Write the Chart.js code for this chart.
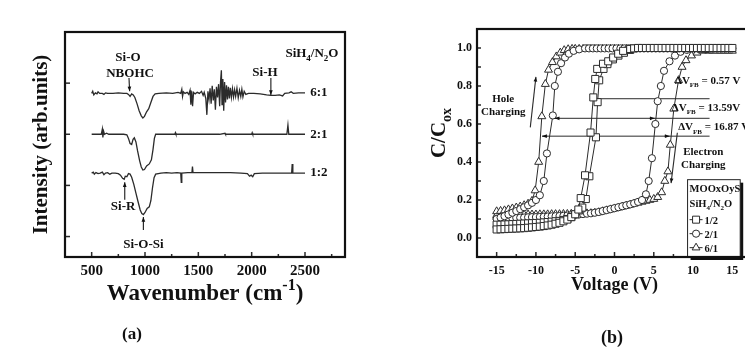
<!DOCTYPE html>
<html>
<head>
<meta charset="utf-8">
<script src="https://cdn.jsdelivr.net/npm/chart.js@4.4.1/dist/chart.umd.min.js"></script>
<style>
  body { margin: 0; background: #fff; width: 745px; height: 352px; overflow: hidden; position: relative; }
  #painel-a { position: absolute; left: 0; top: 0; }
  #painel-b { position: absolute; left: 378px; top: 0; }
</style>
</head>
<body>
<canvas id="painel-a" width="375" height="352"></canvas>
<canvas id="painel-b" width="380" height="352"></canvas>
<script>
// Painel (a): espectros FTIR, pares [número de onda, intensidade]
const espectro61 = [[500,3.80],[510,3.84],[520,3.77],[535,3.81],[550,3.79],[560,3.83],[575,3.80],[600,3.80],[615,3.78],[630,3.81],[650,3.80],[700,3.80],[750,3.81],[800,3.80],[830,3.80],[845,3.78],[860,3.74],[875,3.79],[890,3.77],[905,3.72],[925,3.60],[945,3.46],[965,3.36],[980,3.32],[995,3.35],[1015,3.44],[1035,3.50],[1055,3.62],[1075,3.74],[1095,3.79],[1130,3.80],[1200,3.81],[1260,3.80],[1310,3.82],[1335,3.80],[1345,3.88],[1352,3.74],[1360,3.83],[1375,3.80],[1395,3.82],[1410,3.78],[1422,3.86],[1430,3.58],[1438,3.84],[1446,3.55],[1455,3.82],[1470,3.79],[1490,3.82],[1510,3.80],[1530,3.84],[1545,3.76],[1555,3.82],[1570,3.70],[1580,3.38],[1590,3.84],[1600,3.68],[1610,3.90],[1620,3.60],[1630,3.95],[1640,3.66],[1650,3.88],[1660,3.48],[1670,3.93],[1680,3.72],[1690,3.98],[1700,3.55],[1708,4.02],[1716,4.25],[1722,3.58],[1730,4.08],[1738,3.46],[1746,4.02],[1755,3.62],[1764,3.96],[1773,3.68],[1782,3.93],[1791,3.70],[1800,3.91],[1810,3.72],[1820,3.89],[1830,3.73],[1840,3.87],[1850,3.74],[1862,3.90],[1874,3.71],[1886,3.86],[1898,3.74],[1908,3.88],[1918,3.73],[1930,3.84],[1945,3.78],[1970,3.80],[2020,3.80],[2080,3.79],[2140,3.77],[2180,3.76],[2220,3.76],[2260,3.77],[2290,3.75],[2310,3.80],[2350,3.81],[2370,3.83],[2390,3.80],[2440,3.81],[2500,3.81]];
const espectro21 = [[500,3.00],[560,3.00],[590,3.00],[600,3.10],[605,2.94],[612,3.06],[620,3.00],[640,3.02],[660,3.00],[700,3.00],[760,3.00],[800,3.00],[830,2.99],[845,2.92],[860,2.82],[875,2.80],[888,2.90],[900,2.93],[915,2.85],[930,2.68],[950,2.48],[965,2.36],[980,2.30],[995,2.31],[1015,2.38],[1040,2.42],[1060,2.50],[1075,2.70],[1088,2.92],[1100,3.00],[1200,3.00],[1280,3.00],[1285,3.03],[1290,3.00],[1500,3.00],[1700,3.00],[1750,3.02],[1755,3.00],[2000,3.00],[2005,3.03],[2010,3.00],[2330,3.00],[2340,3.18],[2348,3.00],[2500,3.00]];
const espectro12 = [[500,2.24],[515,2.26],[525,2.22],[540,2.25],[560,2.23],[580,2.24],[600,2.26],[615,2.21],[630,2.24],[650,2.25],[670,2.22],[690,2.24],[720,2.24],[750,2.23],[770,2.20],[790,2.14],[805,2.12],[815,2.18],[830,2.17],[845,2.23],[860,2.22],[875,2.16],[895,2.02],[915,1.85],[935,1.68],[955,1.52],[970,1.45],[985,1.43],[1000,1.47],[1020,1.55],[1040,1.58],[1055,1.70],[1070,1.95],[1085,2.15],[1100,2.22],[1150,2.24],[1200,2.25],[1250,2.24],[1300,2.25],[1335,2.24],[1340,2.06],[1345,2.24],[1400,2.25],[1440,2.25],[1445,2.37],[1450,2.25],[1550,2.25],[1700,2.25],[1800,2.25],[1900,2.24],[1960,2.23],[1980,2.18],[1995,2.20],[2010,2.17],[2025,2.23],[2100,2.24],[2200,2.24],[2300,2.24],[2375,2.24],[2380,2.42],[2386,2.24],[2450,2.24],[2500,2.24]];
const rotulosRazao = ['6:1', '2:1', '1:2'];
const ticksOnda = [500, 750, 1000, 1250, 1500, 1750, 2000, 2250, 2500, 2750];
const ticksIntensidade = [1, 2, 3, 4];

// Painel (b): curvas C-V, pares [tensão, C/Cox]
const quadrado12A = [[-15,0.045],[-14.5,0.046],[-14,0.047],[-13.5,0.048],[-13,0.049],[-12.5,0.05],[-12,0.051],[-11.5,0.052],[-11,0.054],[-10.5,0.056],[-10,0.058],[-9.5,0.06],[-9,0.063],[-8.5,0.066],[-8,0.07],[-7.5,0.075],[-7,0.08],[-6.5,0.088],[-6,0.097],[-5.5,0.11],[-5,0.125],[-4.6,0.15],[-4.3,0.21],[-3.75,0.33],[-3.05,0.555],[-2.7,0.74],[-2.45,0.837],[-2.2,0.89],[-1.46,0.917],[-0.8,0.93],[-0.17,0.95],[0.47,0.97],[1.1,0.985],[2,0.995],[2.5,0.998],[3,1],[3.5,1],[4,1],[4.5,1],[5,1],[5.5,1],[6,1],[6.5,1],[7,1],[7.5,1],[8,1],[8.5,1],[9,1],[9.5,1],[10,1],[10.5,1],[11,1],[11.5,1],[12,1],[12.5,1],[13,1],[13.5,1],[14,1],[14.5,1],[15,1]];
const quadrado12B = [[-15,0.07],[-14.5,0.07],[-14,0.071],[-13.5,0.072],[-13,0.073],[-12.5,0.074],[-12,0.075],[-11.5,0.076],[-11,0.077],[-10.5,0.078],[-10,0.079],[-9.5,0.08],[-9,0.082],[-8.5,0.084],[-8,0.086],[-7.5,0.088],[-7,0.09],[-6.5,0.095],[-6,0.1],[-5.5,0.11],[-5,0.125],[-4.5,0.145],[-4.1,0.16],[-3.65,0.205],[-3.2,0.325],[-2.36,0.53],[-2.15,0.715],[-1.95,0.83],[-1.4,0.89],[-0.9,0.915],[-0.2,0.94],[0.5,0.96],[1.2,0.975],[2,0.99],[3,1]];
const circulo21A = [[-15,0.1],[-14.5,0.108],[-14,0.115],[-13.5,0.124],[-13,0.133],[-12.5,0.142],[-12,0.152],[-11.5,0.162],[-11,0.172],[-10.5,0.185],[-10,0.2],[-9.5,0.225],[-9,0.3],[-8.6,0.445],[-7.85,0.645],[-7.6,0.8],[-7.2,0.875],[-6.8,0.92],[-6.3,0.95],[-5.8,0.97],[-5.2,0.985],[-4.5,0.993],[-3.75,0.998],[-3.25,0.998],[-2.75,0.998],[-2.25,0.998],[-1.75,0.998],[-1.25,0.998],[-0.75,0.998],[-0.25,0.998],[0.25,0.998],[0.75,0.998],[1.25,0.998],[1.75,0.998],[2.25,0.998],[2.75,0.998],[3.25,0.998],[3.75,0.998],[4.25,0.998],[4.75,0.998],[5.25,0.998],[5.75,0.998],[6.25,0.998],[6.75,0.998],[7.25,0.998],[7.75,0.998],[8.25,0.998],[8.75,0.998],[9.25,0.998],[9.75,0.998],[10.25,0.998],[10.75,0.998],[11.25,0.998],[11.75,0.998],[12.25,0.998],[12.75,0.998],[13.25,0.998],[13.75,0.998],[14.25,0.998],[14.75,0.998],[15,0.998]];
const circulo21B = [[-15,0.1],[-14.5,0.1],[-14,0.102],[-13.5,0.103],[-13,0.105],[-12.5,0.106],[-12,0.107],[-11.5,0.108],[-11,0.109],[-10.5,0.11],[-10,0.11],[-9.5,0.111],[-9,0.112],[-8.5,0.113],[-8,0.114],[-7.5,0.115],[-7,0.116],[-6.5,0.117],[-6,0.118],[-5.5,0.12],[-5,0.122],[-4.5,0.124],[-4,0.126],[-3.5,0.128],[-3,0.13],[-2.5,0.133],[-2,0.137],[-1.5,0.142],[-1,0.147],[-0.5,0.152],[0,0.157],[0.5,0.162],[1,0.167],[1.5,0.172],[2,0.177],[2.5,0.183],[3,0.19],[3.5,0.2],[4,0.23],[4.35,0.3],[4.76,0.42],[5.2,0.6],[5.5,0.72],[5.9,0.8],[6.3,0.88],[7,0.93],[7.7,0.96],[8.4,0.98],[9.2,0.99],[10,0.998]];
const triangulo61A = [[-15,0.14],[-14.5,0.142],[-14,0.145],[-13.5,0.15],[-13,0.155],[-12.5,0.16],[-12,0.165],[-11.5,0.172],[-11,0.18],[-10.5,0.195],[-10.1,0.25],[-9.65,0.4],[-9.25,0.64],[-8.8,0.81],[-8.4,0.885],[-7.9,0.925],[-7.4,0.955],[-6.9,0.975],[-6.4,0.988],[-5.9,0.993],[-5.4,0.995],[-5,0.995],[-4.5,0.995],[-4,0.995],[-3.5,0.995],[-3,0.995],[-2.5,0.995],[-2,0.995],[-1.5,0.995],[-1,0.995],[-0.5,0.995],[0,0.995],[0.5,0.995],[1,0.995],[1.5,0.995],[2,0.995],[2.5,0.995],[3,0.995],[3.5,0.995],[4,0.995],[4.5,0.995],[5,0.995],[5.5,0.995],[6,0.995],[6.5,0.995],[7,0.995],[7.5,0.995],[8,0.995],[8.5,0.995],[9,0.995],[9.5,0.995],[10,0.995],[10.5,0.995],[11,0.99],[11.5,0.99],[12,0.988],[12.5,0.986],[13,0.985],[13.5,0.985],[14,0.985],[14.5,0.985],[15,0.985]];
const triangulo61B = [[-15,0.12],[-14.5,0.12],[-14,0.12],[-13.5,0.121],[-13,0.121],[-12.5,0.122],[-12,0.122],[-11.5,0.122],[-11,0.123],[-10.5,0.123],[-10,0.123],[-9.5,0.124],[-9,0.124],[-8.5,0.124],[-8,0.125],[-7.5,0.125],[-7,0.125],[-6.5,0.126],[-6,0.126],[-5.5,0.127],[-5,0.127],[-4.5,0.128],[-4,0.128],[-3.5,0.129],[-3,0.13],[-2.5,0.132],[-2,0.135],[-1.5,0.14],[-1,0.145],[-0.5,0.15],[0,0.155],[0.5,0.16],[1,0.165],[1.5,0.17],[2,0.175],[2.5,0.18],[3,0.185],[3.5,0.19],[4,0.195],[4.5,0.2],[5,0.205],[5.5,0.215],[6,0.24],[6.4,0.3],[6.8,0.35],[7.1,0.49],[7.55,0.68],[8.15,0.83],[8.6,0.9],[9.1,0.935],[9.8,0.96],[10.5,0.975],[11.2,0.985],[12,0.985]];
const linhasDelta = [
    [[-2.7, 0.733], [12.1, 0.733]],
    [[-7.6, 0.63], [12.1, 0.63]],
    [[-9.2, 0.536], [12.1, 0.536]]
];
const rotulosDelta = [' = 0.57 V', ' = 13.59V', ' = 16.87 V'];
const rotulosLegenda = ['1/2', '2/1', '6/1'];
const ticksTensao = [-15, -12.5, -10, -7.5, -5, -2.5, 0, 2.5, 5, 7.5, 10, 12.5, 15];
const ticksCapacitancia = [0, 0.1, 0.2, 0.3, 0.4, 0.5, 0.6, 0.7, 0.8, 0.9, 1.0];

const fonteSerif = '"Liberation Serif", "Times New Roman", serif';
const corTexto = '#111';
const corTraco = '#2b2b2b';

Chart.defaults.font.family = fonteSerif;
Chart.defaults.color = corTexto;

function paraPontos(pares) {
    return pares.map(([x, y]) => ({ x, y }));
}

function linha(ctx, x1, y1, x2, y2) {
    ctx.beginPath();
    ctx.moveTo(x1, y1);
    ctx.lineTo(x2, y2);
    ctx.stroke();
}

function seta(ctx, x1, y1, x2, y2, ponta = 5) {
    const ang = Math.atan2(y2 - y1, x2 - x1);
    linha(ctx, x1, y1, x2, y2);
    ctx.beginPath();
    ctx.moveTo(x2, y2);
    ctx.lineTo(x2 - ponta * Math.cos(ang - 0.38), y2 - ponta * Math.sin(ang - 0.38));
    ctx.lineTo(x2 - ponta * Math.cos(ang + 0.38), y2 - ponta * Math.sin(ang + 0.38));
    ctx.closePath();
    ctx.fill();
}

// texto com subscrito (1) e sobrescrito (-1); y é a linha de base
function textoRico(ctx, partes, x, y, tam, alinhar) {
    const fonte = k => `bold ${k ? Math.round(tam * 0.68) : tam}px ${fonteSerif}`;
    let largura = 0;
    partes.forEach(([t, k]) => {
        ctx.font = fonte(k);
        largura += ctx.measureText(t).width;
    });
    let cx = alinhar === 'center' ? x - largura / 2 : (alinhar === 'right' ? x - largura : x);
    ctx.textAlign = 'left';
    ctx.textBaseline = 'alphabetic';
    partes.forEach(([t, k]) => {
        ctx.font = fonte(k);
        const dy = k === 1 ? tam * 0.3 : (k === -1 ? -tam * 0.42 : 0);
        ctx.fillText(t, cx, y + dy);
        cx += ctx.measureText(t).width;
    });
}

function desenharMarcador(ctx, estilo, x, y) {
    ctx.beginPath();
    if (estilo === 'rect') {
        ctx.rect(x - 3.5, y - 3.5, 7, 7);
    } else if (estilo === 'circle') {
        ctx.arc(x, y, 3.6, 0, Math.PI * 2);
    } else {
        ctx.moveTo(x, y - 4.5);
        ctx.lineTo(x + 3.9, y + 2.25);
        ctx.lineTo(x - 3.9, y + 2.25);
        ctx.closePath();
    }
    ctx.fillStyle = '#fff';
    ctx.fill();
    ctx.stroke();
}

const anotacoesA = {
    id: 'anotacoesA',
    afterDatasetsDraw(chart) {
        const { ctx, chartArea: a, scales: { x, y } } = chart;
        const px = v => x.getPixelForValue(v);
        const py = v => y.getPixelForValue(v);
        ctx.save();
        ctx.strokeStyle = corTraco;
        ctx.fillStyle = corTexto;

        // marcas dos eixos voltadas para dentro
        ctx.lineWidth = 1.5;
        x.ticks.forEach(t => {
            const xp = px(t.value);
            linha(ctx, xp, a.bottom, xp, a.bottom - (t.value % 500 === 0 ? 5 : 3));
        });
        y.ticks.forEach(t => linha(ctx, a.left, py(t.value), a.left + 5, py(t.value)));

        // razões ao fim de cada espectro
        ctx.font = `bold 13px ${fonteSerif}`;
        ctx.textAlign = 'center';
        ctx.textBaseline = 'middle';
        [espectro61, espectro21, espectro12].forEach((esp, i) => {
            ctx.fillText(rotulosRazao[i], px(2630), py(esp[esp.length - 1][1]));
        });

        ctx.fillText('Si-O', px(840), py(4.49));
        ctx.fillText('NBOHC', px(860), py(4.19));
        ctx.fillText('Si-H', px(2125), py(4.21));
        ctx.fillText('Si-R', px(795), py(1.58));
        ctx.fillText('Si-O-Si', px(985), py(0.84));
        ctx.lineWidth = 1.2;
        seta(ctx, px(850), py(4.10), px(856), py(3.84));
        seta(ctx, px(2180), py(4.10), px(2180), py(3.77));
        seta(ctx, px(810), py(1.72), px(810), py(2.06));
        seta(ctx, px(985), py(1.13), px(985), py(1.38));
        textoRico(ctx, [['SiH', 0], ['4', 1], ['/N', 0], ['2', 1], ['O', 0]], px(2565), py(4.6) + 4.5, 13, 'center');

        // título do eixo x com expoente
        textoRico(ctx, [['Wavenumber (cm', 0], ['-1', -1], [')', 0]], (a.left + a.right) / 2, 300, 23, 'center');
        ctx.font = `bold 17px ${fonteSerif}`;
        ctx.textAlign = 'center';
        ctx.textBaseline = 'alphabetic';
        ctx.fillText('(a)', 132, 339);

        ctx.lineWidth = 2.2;
        ctx.strokeStyle = '#111';
        ctx.strokeRect(a.left, a.top, a.right - a.left, a.bottom - a.top);
        ctx.restore();
    }
};

const anotacoesB = {
    id: 'anotacoesB',
    afterDatasetsDraw(chart) {
        const { ctx, chartArea: a, scales: { x, y } } = chart;
        const px = v => x.getPixelForValue(v);
        const py = v => y.getPixelForValue(v);
        ctx.save();
        ctx.strokeStyle = corTraco;
        ctx.fillStyle = corTexto;

        ctx.lineWidth = 1.5;
        x.ticks.forEach(t => {
            const xp = px(t.value);
            linha(ctx, xp, a.bottom, xp, a.bottom - (t.value % 5 === 0 ? 5 : 3));
        });
        y.ticks.forEach(t => linha(ctx, a.left, py(t.value), a.left + 4, py(t.value)));

        // pontas das setas de deslocamento
        ctx.lineWidth = 1;
        [[-7.6, 0.63, -1], [5.1, 0.63, 1], [-9.2, 0.536, -1], [7.0, 0.536, 1]].forEach(([v, c, d]) => {
            seta(ctx, px(v) - d * 5, py(c), px(v), py(c), 5);
        });

        ctx.font = `bold 11px ${fonteSerif}`;
        ctx.textAlign = 'center';
        ctx.textBaseline = 'middle';
        ctx.fillText('Hole', px(-14.16), py(0.731));
        ctx.fillText('Charging', px(-14.16), py(0.662));
        ctx.fillText('Electron', px(11.3), py(0.451));
        ctx.fillText('Charging', px(11.3), py(0.386));
        ctx.lineWidth = 1.1;
        seta(ctx, px(-10.72), py(0.582), px(-10.0), py(0.848));
        seta(ctx, px(8.0), py(0.554), px(7.2), py(0.289));

        [[7.7, 0.83], [7.3, 0.69], [8.1, 0.586]].forEach(([v, c], i) => {
            textoRico(ctx, [['ΔV', 0], ['FB', 1], [rotulosDelta[i], 0]], px(v), py(c) + 3.8, 11, 'left');
        });

        // caixa da legenda
        const bx = px(9.3), by = py(0.307), bw = px(16.0) - bx, bh = a.bottom - by;
        ctx.fillStyle = '#111';
        ctx.fillRect(bx + 3, by + 3, bw, bh);
        ctx.fillStyle = '#fff';
        ctx.fillRect(bx, by, bw, bh);
        ctx.lineWidth = 1;
        ctx.strokeStyle = '#222';
        ctx.strokeRect(bx, by, bw, bh);
        ctx.fillStyle = corTexto;
        textoRico(ctx, [['MOOxOyS', 0]], bx + 2, by + 12, 10.5, 'left');
        textoRico(ctx, [['SiH', 0], ['4', 1], ['/N', 0], ['2', 1], ['O', 0]], bx + 2, by + 27, 10.5, 'left');
        ['rect', 'circle', 'triangle'].forEach((estilo, i) => {
            const ly = by + 40 + i * 14;
            ctx.strokeStyle = corTraco;
            linha(ctx, bx + 2, ly, bx + 15, ly);
            desenharMarcador(ctx, estilo, bx + 8.5, ly);
            ctx.fillStyle = corTexto;
            textoRico(ctx, [[rotulosLegenda[i], 0]], bx + 17, ly + 4, 10.5, 'left');
        });

        // título do eixo y com subscrito
        ctx.save();
        ctx.translate(60, 133);
        ctx.rotate(-Math.PI / 2);
        textoRico(ctx, [['C/C', 0], ['ox', 1]], 0, 7, 21, 'center');
        ctx.restore();

        ctx.font = `bold 18px ${fonteSerif}`;
        ctx.textAlign = 'center';
        ctx.textBaseline = 'alphabetic';
        ctx.fillText('(b)', 234, 343);

        ctx.lineWidth = 2.2;
        ctx.strokeStyle = '#111';
        ctx.strokeRect(a.left, a.top, a.right - a.left, a.bottom - a.top);
        ctx.restore();
    }
};

const fonteTick = (tam) => ({ family: fonteSerif, size: tam, weight: 'bold' });

const graficoA = new Chart(document.getElementById('painel-a').getContext('2d'), {
    type: 'scatter',
    data: {
        datasets: [espectro61, espectro21, espectro12].map(esp => ({
            data: paraPontos(esp),
            showLine: true,
            borderColor: corTraco,
            borderWidth: 1.3,
            pointRadius: 0,
            tension: 0
        }))
    },
    options: {
        responsive: false,
        animation: false,
        events: [],
        layout: { padding: { left: 0, right: 30, top: 32, bottom: 0 } },
        plugins: { legend: { display: false }, tooltip: { enabled: false } },
        scales: {
            x: {
                type: 'linear',
                min: 250,
                max: 2875,
                afterBuildTicks: s => { s.ticks = ticksOnda.map(v => ({ value: v })); },
                afterFit: s => { s.height = 95; },
                grid: { display: false, drawTicks: false },
                border: { display: false },
                ticks: {
                    autoSkip: false,
                    maxRotation: 0,
                    padding: 5,
                    color: corTexto,
                    font: fonteTick(15),
                    callback: v => (v % 500 === 0 ? String(v) : '')
                },
                title: { display: false }
            },
            y: {
                type: 'linear',
                min: 0.6,
                max: 5,
                afterBuildTicks: s => { s.ticks = ticksIntensidade.map(v => ({ value: v })); },
                afterFit: s => { s.width = 65; },
                grid: { display: false, drawTicks: false },
                border: { display: false },
                ticks: { display: false },
                title: {
                    display: true,
                    text: 'Intensity (arb.units)',
                    color: corTexto,
                    font: fonteTick(21),
                    padding: { top: 29, bottom: 0 }
                }
            }
        }
    },
    plugins: [anotacoesA]
});

function serieCV(pares, estilo, raio) {
    return {
        data: paraPontos(pares),
        showLine: true,
        borderColor: corTraco,
        borderWidth: 1,
        pointStyle: estilo,
        pointRadius: raio,
        pointBackgroundColor: '#fff',
        pointBorderColor: corTraco,
        pointBorderWidth: 1,
        tension: 0,
        order: 0
    };
}

const graficoB = new Chart(document.getElementById('painel-b').getContext('2d'), {
    type: 'scatter',
    data: {
        datasets: [
            ...linhasDelta.map(l => ({
                data: paraPontos(l),
                showLine: true,
                borderColor: corTraco,
                borderWidth: 1,
                pointRadius: 0,
                order: 10
            })),
            serieCV(quadrado12A, 'rect', 5),
            serieCV(quadrado12B, 'rect', 5),
            serieCV(circulo21A, 'circle', 3.6),
            serieCV(circulo21B, 'circle', 3.6),
            serieCV(triangulo61A, 'triangle', 4.6),
            serieCV(triangulo61B, 'triangle', 4.6)
        ]
    },
    options: {
        responsive: false,
        animation: false,
        events: [],
        layout: { padding: { left: 0, right: 0, top: 29, bottom: 0 } },
        plugins: { legend: { display: false }, tooltip: { enabled: false } },
        scales: {
            x: {
                type: 'linear',
                min: -17.5,
                max: 17.5,
                afterBuildTicks: s => { s.ticks = ticksTensao.map(v => ({ value: v })); },
                afterFit: s => { s.height = 95; },
                grid: { display: false, drawTicks: false },
                border: { display: false },
                ticks: {
                    autoSkip: false,
                    maxRotation: 0,
                    padding: 7,
                    color: corTexto,
                    font: fonteTick(12),
                    callback: v => (v % 5 === 0 ? String(v) : '')
                },
                title: {
                    display: true,
                    text: 'Voltage (V)',
                    color: corTexto,
                    font: fonteTick(18),
                    padding: { top: 0, bottom: 56 }
                }
            },
            y: {
                type: 'linear',
                min: -0.1,
                max: 1.1,
                afterBuildTicks: s => { s.ticks = ticksCapacitancia.map(v => ({ value: v })); },
                afterFit: s => { s.width = 99; },
                grid: { display: false, drawTicks: false },
                border: { display: false },
                ticks: {
                    autoSkip: false,
                    padding: 5,
                    color: corTexto,
                    font: fonteTick(12),
                    callback: v => (Math.round(v * 10) % 2 === 0 ? v.toFixed(1) : '')
                },
                title: { display: false }
            }
        }
    },
    plugins: [anotacoesB]
});
</script>
</body>
</html>
